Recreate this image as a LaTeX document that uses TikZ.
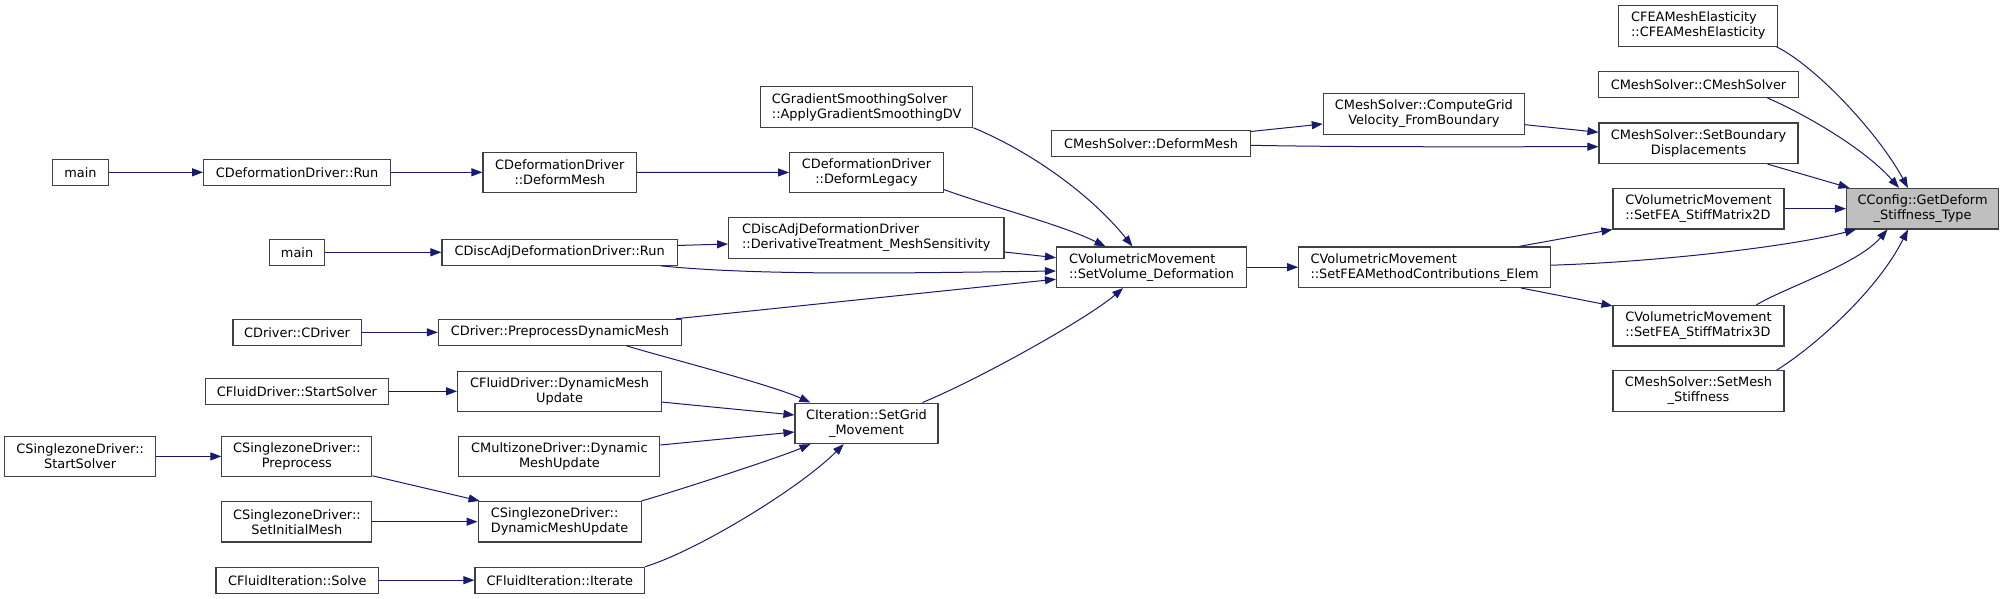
\documentclass[tikz,border=0pt]{standalone}
\usepackage{fontspec}
\setmainfont{DejaVu Sans}
\usetikzlibrary{arrows.meta,calc}
\definecolor{edgeblue}{HTML}{191970}
\definecolor{boxborder}{HTML}{404040}
\definecolor{rootfill}{HTML}{BFBFBF}
\begin{document}
\begin{tikzpicture}[x=1pt,y=-1pt,
  box/.style={draw=boxborder, line width=1.1pt, fill=white, inner sep=0pt, text=black,
    font=\fontsize{12.9}{15}\selectfont},
  one/.style={minimum height=26pt},
  two/.style={minimum height=40.5pt},
  edge/.style={draw=edgeblue, line width=1pt, -{Triangle[length=11pt,width=8pt]}}]
\fill[white] (0,0) rectangle (2004,599);
\useasboundingbox (0,0) rectangle (2004,599);
% column 1
\node[box,one,minimum width=55.3pt] (main1) at (80.4,172.3) {main};
\node[box,two,align=center,minimum width=151.3pt] (szstart) at (80.2,456.4) {CSinglezoneDriver::\\StartSolver};
% column 2
\node[box,one,minimum width=187pt] (defrun) at (297.1,172.3) {CDeformationDriver::Run};
\node[box,one,minimum width=55pt] (main2) at (297.1,252.3) {main};
\node[box,one,minimum width=128.2pt] (cdriver) at (297.1,332.3) {CDriver::CDriver};
\node[box,one,minimum width=183pt] (fluidstart) at (296.9,391.3) {CFluidDriver::StartSolver};
\node[box,two,align=center,minimum width=150pt] (szpre) at (296.9,456.4) {CSinglezoneDriver::\\Preprocess};
\node[box,two,align=center,minimum width=150pt] (szinit) at (296.9,521.7) {CSinglezoneDriver::\\SetInitialMesh};
\node[box,one,minimum width=162.6pt] (fisolve) at (297.3,580.2) {CFluidIteration::Solve};
% column 3
\node[box,two,align=center,minimum width=153.6pt] (defmesh) at (559.8,172.3) {CDeformationDriver\\::DeformMesh};
\node[box,one,minimum width=235.2pt] (discrun) at (559.6,252.3) {CDiscAdjDeformationDriver::Run};
\node[box,one,minimum width=243pt] (predyn) at (559.9,332.3) {CDriver::PreprocessDynamicMesh};
\node[box,two,align=center,minimum width=204pt] (fluiddyn) at (559.6,391.3) {CFluidDriver::DynamicMesh\\Update};
\node[box,two,align=center,minimum width=201pt] (mzdyn) at (559.4,456.4) {CMultizoneDriver::Dynamic\\MeshUpdate};
\node[box,two,align=left,minimum width=163pt] (szdyn) at (559.6,521.7) {CSinglezoneDriver::\\DynamicMeshUpdate};
\node[box,one,minimum width=169.6pt] (fiiter) at (559.8,580.2) {CFluidIteration::Iterate};
% column 4
\node[box,two,align=left,minimum width=212.3pt] (grad) at (866.7,107) {CGradientSmoothingSolver\\::ApplyGradientSmoothingDV};
\node[box,two,align=center,minimum width=153.8pt] (deflegacy) at (866.5,172.5) {CDeformationDriver\\::DeformLegacy};
\node[box,two,align=left,minimum width=275.3pt] (deriv) at (866.3,238) {CDiscAdjDeformationDriver\\::DerivativeTreatment\_MeshSensitivity};
\node[box,two,align=center,minimum width=143pt] (setgrid) at (866.5,423.3) {CIteration::SetGrid\\\_Movement};
% column 5
\node[box,one,minimum width=199pt] (msdeform) at (1151.1,143.3) {CMeshSolver::DeformMesh};
\node[box,two,align=left,minimum width=190pt] (setvol) at (1151.5,267.2) {CVolumetricMovement\\::SetVolume\_Deformation};
% column 6
\node[box,two,align=center,minimum width=201.2pt] (compgrid) at (1423.9,114) {CMeshSolver::ComputeGrid\\Velocity\_FromBoundary};
\node[box,two,align=left,minimum width=251.8pt] (setfea) at (1424.6,267.2) {CVolumetricMovement\\::SetFEAMethodContributions\_Elem};
% column 7
\node[box,two,align=left,minimum width=159pt] (cfea) at (1698.3,25.9) {CFEAMeshElasticity\\::CFEAMeshElasticity};
\node[box,one,minimum width=199.8pt] (mscm) at (1698.5,84.5) {CMeshSolver::CMeshSolver};
\node[box,two,align=center,minimum width=199pt] (setbd) at (1698.5,143.3) {CMeshSolver::SetBoundary\\Displacements};
\node[box,two,align=left,minimum width=171pt] (stiff2d) at (1698.5,208.7) {CVolumetricMovement\\::SetFEA\_StiffMatrix2D};
\node[box,two,align=left,minimum width=171pt] (stiff3d) at (1698.5,325.7) {CVolumetricMovement\\::SetFEA\_StiffMatrix3D};
\node[box,two,align=center,minimum width=171pt] (setmesh) at (1698.5,391) {CMeshSolver::SetMesh\\\_Stiffness};
% root
\node[box,two,align=center,fill=rootfill,minimum width=152.2pt] (cconfig) at (1922.6,208.7) {CConfig::GetDeform\\\_Stiffness\_Type};
% edges
\draw[edge] (main1) -- (defrun);
\draw[edge] (defrun) -- (defmesh);
\draw[edge] (defmesh) -- (deflegacy);
\draw[edge] ($(deflegacy.south east)+(0,-3.7)$) .. controls +(50,18) and +(-45,-22) .. ($(setvol.north west)+(49.5,0)$);
\draw[edge] (grad.south east) .. controls +(60,25) and +(-40,-50) .. ($(setvol.north west)+(76.5,0)$);
\draw[edge] (main2) -- (discrun);
\draw[edge] ($(discrun.north east)+(0,6.7)$) -- ($(deriv.west)+(0,6)$);
\draw[edge] ($(discrun.south east)+(-17,0)$) .. controls +(100,10) and +(-150,2) .. ($(setvol.west)+(0,3.8)$);
\draw[edge] ($(deriv.east)+(0,14)$) -- ($(setvol.west)+(0,-9.5)$);
\draw[edge] (cdriver) -- (predyn);
\draw[edge] ($(predyn.north east)+(-6,0)$) -- ($(setvol.west)+(0,12)$);
\draw[edge] ($(predyn.south east)+(-55.5,0)$) .. controls +(40,12) and +(-40,-18) .. ($(setgrid.north west)+(16,0)$);
\draw[edge] (fluidstart) -- (fluiddyn);
\draw[edge] ($(fluiddyn.east)+(0,10.8)$) -- ($(setgrid.west)+(0,-8.3)$);
\draw[edge] ($(mzdyn.east)+(0,-11.4)$) -- ($(setgrid.west)+(0,8.7)$);
\draw[edge] (szstart) -- (szpre);
\draw[edge] ($(szpre.south east)+(0,-1.4)$) -- ($(szdyn.north west)+(2,0)$);
\draw[edge] (szinit) -- (szdyn);
\draw[edge] (szdyn.north east) .. controls +(35,-10) and +(-30,13) .. ($(setgrid.south west)+(16,0)$);
\draw[edge] (fisolve) -- (fiiter);
\draw[edge] (fiiter.north east) .. controls +(50,-15) and +(-45,45) .. ($(setgrid.south west)+(49.3,0)$);
\draw[edge] ($(setgrid.north east)+(-16,0)$) .. controls +(60,-25) and +(-35,30) .. ($(setvol.south west)+(67.2,0)$);
\draw[edge] (setvol) -- (setfea);
\draw[edge] ($(msdeform.north east)+(0,1.7)$) -- ($(compgrid.west)+(0,10)$);
\draw[edge] ($(msdeform.east)+(0,2)$) .. controls +(100,2) and +(-100,0) .. ($(setbd.west)+(0,3.4)$);
\draw[edge] ($(compgrid.east)+(0,10.7)$) -- ($(setbd.west)+(0,-11)$);
\draw[edge] ($(setfea.north east)+(-31.8,0)$) -- (stiff2d.south west);
\draw[edge] ($(setfea.east)+(0,-2)$) .. controls +(100,-3) and +(-70,18) .. ($(cconfig.south west)+(10,0)$);
\draw[edge] ($(setfea.south east)+(-30,0)$) -- ($(stiff3d.north west)+(0,1)$);
\draw[edge] ($(cfea.south east)+(-2,0)$) .. controls +(40,20) and +(-30,-55) .. ($(cconfig.north west)+(62,0)$);
\draw[edge] ($(mscm.south east)+(-31.4,0)$) .. controls +(35,15) and +(-35,-40) .. ($(cconfig.north west)+(53,0)$);
\draw[edge] ($(setbd.south east)+(-31,0)$) -- ($(cconfig.north west)+(3.5,0)$);
\draw[edge] (stiff2d) -- (cconfig);
\draw[edge] ($(stiff3d.north east)+(-28.2,0)$) .. controls +(30,-18) and +(-30,35) .. ($(cconfig.south west)+(41.5,0)$);
\draw[edge] ($(setmesh.north east)+(-8,0)$) .. controls +(40,-25) and +(-30,60) .. ($(cconfig.south west)+(62,0)$);
\end{tikzpicture}
\end{document}
